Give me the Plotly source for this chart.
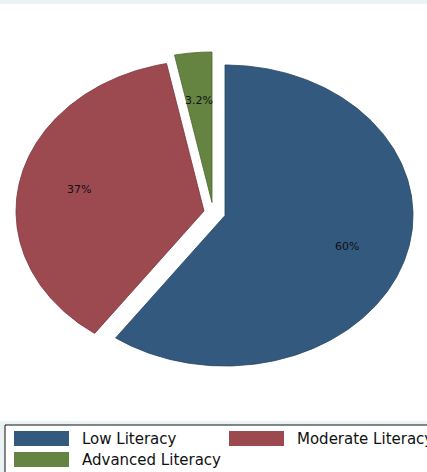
import numpy as np
import plotly.graph_objects as go

# Data
categories = ["Low Literacy", "Moderate Literacy", "Advanced Literacy"]
shares = [60, 37, 3.2]

# Styling
fills = ["#34597F", "#9C4950", "#658341"]
edges = ["#24435f", "#7a353b", "#4b6630"]
explode = [(0, 0), (-21, -4.5), (-13, -13)]  # pixel offsets for pulled slices

W, H = 427, 472
CX, CY = 225, 215.5        # pie centre (page pixels)
RX, RY = 188, 150.5        # horizontal / vertical radius
LABEL_R = 0.68

fig = go.Figure()

total = float(sum(shares))
start = 0.0
label_annots = []
for cat, val, fc, ec, (ox, oy) in zip(categories, shares, fills, edges, explode):
    sweep = 360.0 * val / total
    th = np.radians(np.linspace(start, start + sweep, 240))
    xs = np.concatenate([[CX + ox], CX + ox + RX * np.sin(th), [CX + ox]])
    ys = np.concatenate([[CY + oy], CY + oy - RY * np.cos(th), [CY + oy]])
    fig.add_trace(go.Scatter(
        x=xs, y=ys, mode="lines", fill="toself", fillcolor=fc,
        line=dict(color=ec, width=0.8), name=cat, hoverinfo="skip",
        showlegend=False,
    ))
    mid = np.radians(start + sweep / 2)
    label_annots.append(dict(
        x=CX + ox + LABEL_R * RX * np.sin(mid),
        y=CY + oy - LABEL_R * RY * np.cos(mid),
        xref="x", yref="y", text=f"{val:g}%", showarrow=False,
        font=dict(family="DejaVu Sans", size=11, color="#111111"),
        xanchor="center", yanchor="middle",
    ))
    start += sweep

shapes = [
    # graph region strips
    dict(type="rect", xref="x", yref="y", x0=0, x1=W, y0=0, y1=4,
         fillcolor="#EAF2F3", line=dict(width=0)),
    dict(type="rect", xref="x", yref="y", x0=0, x1=W, y0=421, y1=H,
         fillcolor="#EAF2F3", line=dict(width=0)),
    # legend box
    dict(type="rect", xref="x", yref="y", x0=5, x1=W + 20, y0=425, y1=H + 20,
         fillcolor="white", line=dict(color="#111111", width=1)),
]

# Legend keys: two columns, row-major
key_x = [14, 229]
key_y = [431, 452]
legend_annots = []
for i, (cat, fc) in enumerate(zip(categories, fills)):
    col, row = i % 2, i // 2
    x0, y0 = key_x[col], key_y[row]
    shapes.append(dict(type="rect", xref="x", yref="y", x0=x0, x1=x0 + 55,
                       y0=y0, y1=y0 + 15, fillcolor=fc, line=dict(width=0)))
    legend_annots.append(dict(
        x=x0 + 66, y=y0 + 7.5, xref="x", yref="y", text=cat, showarrow=False,
        xanchor="left", yanchor="middle",
        font=dict(family="DejaVu Sans", size=15, color="#111111"),
    ))

fig.update_layout(
    width=W, height=H, autosize=False,
    margin=dict(l=0, r=0, t=0, b=0),
    paper_bgcolor="white", plot_bgcolor="white",
    xaxis=dict(range=[0, W], visible=False, fixedrange=True),
    yaxis=dict(range=[H, 0], visible=False, fixedrange=True),
    shapes=shapes,
    annotations=label_annots + legend_annots,
    showlegend=False,
    hovermode=False,
)

fig.write_html("out.html")
